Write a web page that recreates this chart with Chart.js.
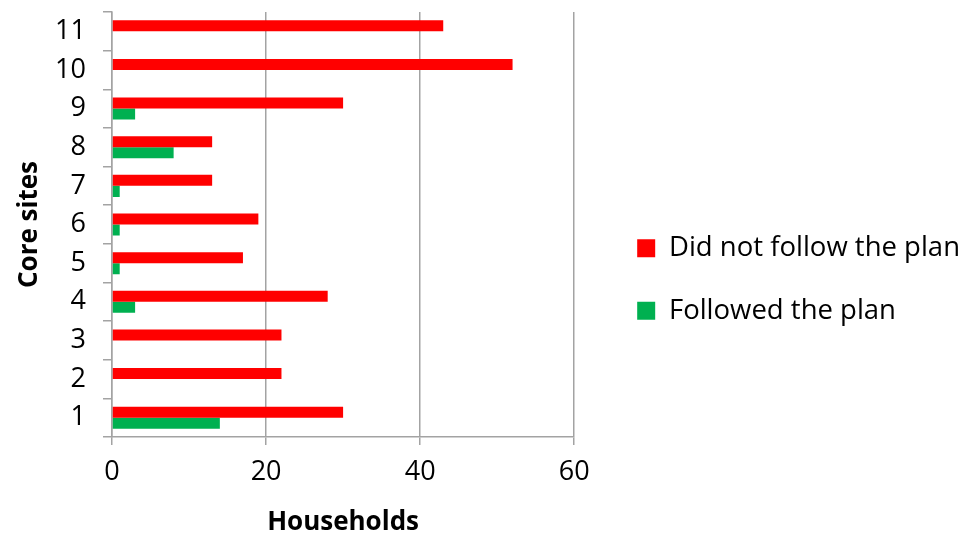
<!DOCTYPE html>
<html>
<head>
<meta charset="utf-8">
<title>Households following the plan by core site</title>
<script src="https://cdn.jsdelivr.net/npm/chart.js@4/dist/chart.umd.min.js"></script>
<style>
  html, body { margin: 0; padding: 0; background: #ffffff; }
  #wrap { width: 976px; height: 538px; position: relative; }
</style>
</head>
<body>
<div id="wrap"><canvas id="chart" width="976" height="538"></canvas></div>
<script>
// Core sites, listed from 1 upward
const sites = ['1', '2', '3', '4', '5', '6', '7', '8', '9', '10', '11'];
// Households per site
const didNotFollow = [30, 22, 22, 28, 17, 19, 13, 13, 30, 52, 43];
const followed     = [14, 0, 0, 3, 1, 1, 1, 8, 3, 0, 0];
// Household axis ticks
const householdTicks = [0, 20, 40, 60];

const seriesNames = ['Did not follow the plan', 'Followed the plan'];
const seriesColors = ['#ff0000', '#00b050'];

// Site 11 sits at the top of the category axis, so feed the sites top-down
const labelsTopDown = sites.slice().reverse();
const notTopDown = didNotFollow.slice().reverse();
const folTopDown = followed.slice().reverse();

const FONT = "'Open Sans', 'DejaVu Sans', sans-serif";
const GRID = '#a3a3a3';

new Chart(document.getElementById('chart'), {
  type: 'bar',
  data: {
    labels: labelsTopDown,
    datasets: [
      { label: seriesNames[0], data: notTopDown, backgroundColor: seriesColors[0], borderWidth: 0 },
      { label: seriesNames[1], data: folTopDown, backgroundColor: seriesColors[1], borderWidth: 0 }
    ]
  },
  options: {
    indexAxis: 'y',
    responsive: false,
    animation: false,
    devicePixelRatio: 1,
    datasets: { bar: { categoryPercentage: 0.57, barPercentage: 1.0 } },
    layout: { padding: { top: 12, bottom: 0, left: 4, right: 6 } },
    plugins: {
      tooltip: { enabled: false },
      legend: {
        position: 'right',
        align: 'center',
        maxWidth: 380,
        // blank title line nudges the legend entries a little lower
        title: { display: true, text: ' ', padding: 0, font: { family: FONT, size: 7.5 } },
        labels: {
          boxWidth: 18,
          boxHeight: 18,
          padding: 35,
          color: '#000000',
          font: { family: FONT, size: 27.5 }
        }
      }
    },
    scales: {
      x: {
        type: 'linear',
        position: 'bottom',
        min: householdTicks[0],
        max: householdTicks[householdTicks.length - 1],
        afterBuildTicks: (scale) => { scale.ticks = householdTicks.map(v => ({ value: v })); },
        afterFit: (scale) => { scale.height = 101; },
        grid: { color: GRID, lineWidth: 1.5, drawTicks: true, tickLength: 8, tickColor: GRID },
        border: { color: GRID, width: 1.5 },
        ticks: { color: '#000000', padding: 11, font: { family: FONT, size: 27 } },
        title: {
          display: true,
          text: 'Households',
          color: '#000000',
          font: { family: FONT, size: 26, weight: 'bold' },
          padding: { top: 6, bottom: 0 }
        }
      },
      y: {
        type: 'category',
        position: 'left',
        afterFit: (scale) => { scale.width = 108; scale.paddingTop = 0; scale.paddingBottom = 0; },
        grid: { offset: true, drawOnChartArea: false, drawTicks: true, tickLength: 9, color: GRID, lineWidth: 1.5 },
        border: { color: GRID, width: 1.5 },
        ticks: { color: '#000000', padding: 17, font: { family: FONT, size: 27 } },
        title: {
          display: true,
          text: 'Core sites',
          color: '#000000',
          font: { family: FONT, size: 26, weight: 'bold' },
          padding: { top: 10, bottom: 12 }
        }
      },
      // empty spacer between the plot and the legend
      gap: {
        type: 'linear',
        axis: 'y',
        position: 'right',
        display: true,
        grid: { display: false },
        border: { display: false },
        ticks: { display: false },
        afterFit: (scale) => { scale.width = 28; }
      }
    }
  }
});
</script>
</body>
</html>
